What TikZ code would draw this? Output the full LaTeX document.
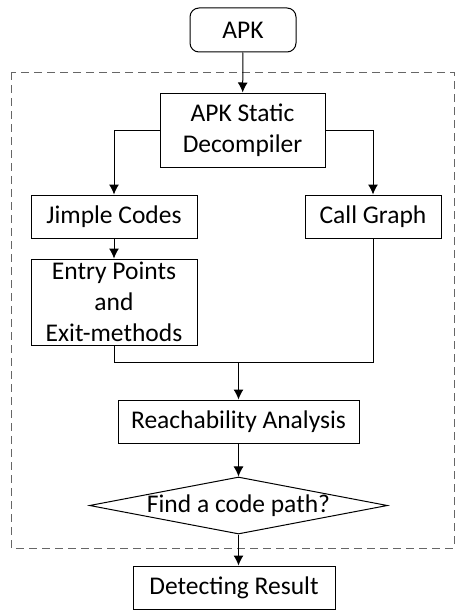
\documentclass[tikz,border=0pt]{standalone}
\usepackage{fontspec}
\setmainfont{Carlito}
\usetikzlibrary{arrows.meta, shapes.geometric}

\tikzset{
	box/.style = {draw, line width = 1pt, inner sep = 0pt, align = center, font = \fontsize{25.5}{31}\selectfont},
	flow/.style = {line width = 1pt, -{Latex[length = 10pt, width = 10pt]}},
	link/.style = {line width = 1pt}
}

\begin{document}
\begin{tikzpicture}[x = 1pt, y = -1pt]
		\useasboundingbox (0,0) rectangle (457,610);
		
		\begin{scope}
			\draw [gray!80!black, line width = 1pt, dash pattern = on 8pt off 5pt] (11,72) rectangle (454,548);
		\end{scope}
		
		\begin{scope}
			\node [box, rounded corners = 9pt, minimum width = 106pt, minimum height = 44pt] (apk) at (243,30) {APK};
			\node [box, minimum width = 165pt, minimum height = 74pt] (decomp) at (242.5,130) {APK Static\\Decompiler};
			\node [box, minimum width = 166pt, minimum height = 43pt] (jimple) at (114,216.5) {Jimple Codes};
			\node [box, minimum width = 136pt, minimum height = 43pt] (callgraph) at (373,216.5) {Call Graph};
			\node [box, minimum width = 166pt, minimum height = 86pt] (entry) at (114,302) {Entry Points\\and\\Exit-methods};
			\node [box, minimum width = 241pt, minimum height = 43pt] (reach) at (238.5,421.5) {Reachability Analysis};
			\node [box, diamond, aspect = 5.2, minimum width = 298pt, minimum height = 57pt] (findpath) at (238.5,505.5) {Find a code path?};
			\node [box, minimum width = 202pt, minimum height = 43pt] (result) at (234,587.5) {Detecting Result};
		\end{scope}
		
		\coordinate (merge) at (238.5,362);
		
		\begin{scope}
			\draw [flow] (apk) -- (decomp);
			\draw [flow] (decomp.west) -| (jimple.north);
			\draw [flow] (decomp.east) -| (callgraph.north);
			\draw [flow] (jimple) -- (entry);
			\draw [link] (entry.south) |- (merge);
			\draw [link] (callgraph.south) |- (merge);
			\draw [flow] (merge) -- (reach);
			\draw [flow] (reach) -- (findpath);
			\draw [flow] (findpath.south) -- (result.north -| findpath.south);
		\end{scope}
	\end{tikzpicture}
\end{document}
